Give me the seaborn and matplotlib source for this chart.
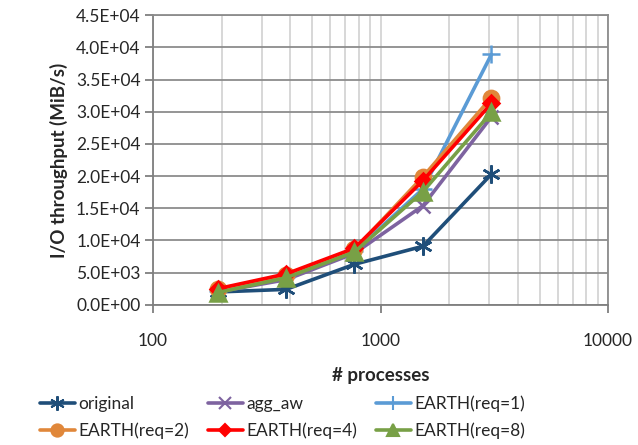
import pandas as pd
import matplotlib
matplotlib.use('Agg')
import matplotlib.pyplot as plt
import seaborn as sns
from matplotlib.ticker import FuncFormatter, LogLocator, MultipleLocator

# 进程数 / 吞吐量 (MiB/s)
procs = [192, 384, 768, 1536, 3072]
original = [2000, 2400, 6300, 9100, 20300]
agg_aw = [2000, 3900, 8000, 15400, 29200]
earth_req1 = [2200, 4300, 8300, 18000, 38900]
earth_req2 = [2400, 4600, 8600, 19900, 32200]
earth_req4 = [2500, 4800, 8800, 19300, 31300]
earth_req8 = [1900, 4200, 8200, 17600, 29900]

series = {
    'original': original,
    'agg_aw': agg_aw,
    'EARTH(req=1)': earth_req1,
    'EARTH(req=2)': earth_req2,
    'EARTH(req=4)': earth_req4,
    'EARTH(req=8)': earth_req8,
}
names = list(series.keys())

colors = {
    'original': '#1F4E79',
    'agg_aw': '#7E63A0',
    'EARTH(req=1)': '#5B9BD5',
    'EARTH(req=2)': '#E0873A',
    'EARTH(req=4)': '#FF0000',
    'EARTH(req=8)': '#78A046',
}
markers = {
    'original': (6, 2, 0),
    'agg_aw': 'x',
    'EARTH(req=1)': '+',
    'EARTH(req=2)': 'o',
    'EARTH(req=4)': 'D',
    'EARTH(req=8)': '^',
}
msizes = {
    'original': 13,
    'agg_aw': 10,
    'EARTH(req=1)': 13,
    'EARTH(req=2)': 11,
    'EARTH(req=4)': 8,
    'EARTH(req=8)': 11,
}

sns.set_style('white')
plt.rcParams['font.family'] = ['Lato', 'DejaVu Sans']

fig = plt.figure(figsize=(6.38, 4.45), dpi=100)
ax = fig.add_axes([0.24, 0.315, 0.713, 0.651])

for name in names:
    d = pd.DataFrame({'procs': procs, 'throughput': series[name]})
    sns.lineplot(data=d, x='procs', y='throughput', color=colors[name],
                 marker=markers[name], markersize=msizes[name],
                 markeredgecolor=colors[name], markerfacecolor=colors[name],
                 markeredgewidth=1.8, linewidth=2.6, ax=ax, label=name, legend=False)

ax.set_xscale('log')
ax.set_xlim(100, 10000)
ax.set_ylim(0, 45000)
ax.yaxis.set_major_locator(MultipleLocator(5000))
ax.yaxis.set_major_formatter(FuncFormatter(lambda v, p: f'{v:.1E}'))
ax.xaxis.set_major_locator(LogLocator(base=10))
ax.xaxis.set_minor_locator(LogLocator(base=10, subs=range(2, 10)))
ax.xaxis.set_major_formatter(FuncFormatter(lambda v, p: f'{int(v)}'))

ax.grid(True, which='major', axis='y', color='#8C8C8C', linewidth=1.3)
ax.grid(True, which='both', axis='x', color='#D4D4D4', linewidth=1.3)
ax.set_axisbelow(True)
for side in ['left', 'bottom']:
    ax.spines[side].set_color('#7F7F7F')
    ax.spines[side].set_linewidth(1.3)
ax.spines['top'].set_color('#8C8C8C')
ax.spines['right'].set_color('#8C8C8C')
ax.spines['top'].set_linewidth(1.3)
ax.spines['right'].set_linewidth(1.3)

ax.tick_params(axis='y', which='major', direction='out', length=6, width=1.3,
               color='#7F7F7F', labelsize=12.5, left=True, pad=3)
ax.tick_params(axis='x', which='major', direction='out', length=6, width=1.3,
               color='#7F7F7F', labelsize=12.5, bottom=True, pad=14)
ax.tick_params(axis='x', which='minor', length=0)

ax.set_xlabel('# processes', fontsize=13.5, fontweight='bold', labelpad=13)
ax.set_ylabel('I/O throughput (MiB/s)', fontsize=13.5, fontweight='bold', labelpad=6)

# 图例按行排列（3 列）
handles = []
for name in names:
    h, = ax.plot([], [], color=colors[name], marker=markers[name],
                 markersize=msizes[name] * 0.8, linewidth=2.6,
                 markeredgecolor=colors[name], markeredgewidth=1.5)
    handles.append(h)
order = [0, 3, 1, 4, 2, 5]
fig.legend([handles[i] for i in order], [names[i] for i in order],
           loc='upper left', bbox_to_anchor=(0.038, 0.146), ncol=3,
           frameon=False, fontsize=12.5, handlelength=2.0, handletextpad=0.2,
           columnspacing=1.1, labelspacing=0.6)

plt.savefig('out.png', dpi=100)
plt.close()
